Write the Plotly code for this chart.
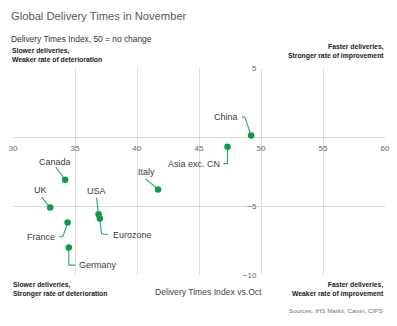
import plotly.graph_objects as go

# Delivery times index by economy (x: level, y: change vs. October)
countries = ["China", "Asia exc. CN", "Italy", "Canada", "UK", "France", "Germany", "USA", "Eurozone"]
index_level = [49.2, 47.3, 41.7, 34.2, 33.0, 34.4, 34.5, 36.9, 37.0]
change_vs_oct = [0.1, -0.7, -3.8, -3.1, -5.1, -6.2, -8.0, -5.6, -5.9]

x_ticks = [30, 35, 40, 45, 50, 55, 60]
y_ticks = [-10, -5, 5]

# Leader-line polylines (pixel offsets from each point, screen y down) and label placement
leaders = {
    "China": ([(0, 0), (-6, -18), (-9, -19)], (-11, -19), "right"),
    "Asia exc. CN": ([(0, 0), (0, 17), (-4, 17)], (-6, 17), "right"),
    "Italy": ([(0, 0), (-12.5, -10.5)], (-12, -17), "center"),
    "Canada": ([(0, 0), (-9.3, -12.7)], (-10, -18), "center"),
    "UK": ([(0, 0), (-8.7, -10.3)], (-10, -17), "center"),
    "France": ([(0, 0), (-4.4, 13.4), (-8.4, 14.4)], (-10.5, 14.5), "right"),
    "Germany": ([(0, 0), (0, 17.7), (6.5, 17.7)], (8, 17.7), "left"),
    "USA": ([(0, 0), (-2, -16.7)], (-2.4, -23.7), "center"),
    "Eurozone": ([(0, 0), (1.7, 15), (8.3, 16.3)], (11, 16.5), "left"),
}

W, H = 397, 326
ML, MR, MT, MB = 13, 12, 68, 51
XR, YR = [30, 60], [-10, 5]
PW, PH = W - ML - MR, H - MT - MB
PX_X = PW / (XR[1] - XR[0])
PX_Y = PH / (YR[1] - YR[0])

DOT = "#0c9a4c"
LEADER = "#25ab63"
GRID = "#dcdcdc"
FONT = "Liberation Sans, Arial, sans-serif"

fig = go.Figure()

annotations = []
for name, xv, yv in zip(countries, index_level, change_vs_oct):
    path, (lx, ly), anchor = leaders[name]
    fig.add_trace(go.Scatter(
        x=[xv + dx / PX_X for dx, dy in path],
        y=[yv - dy / PX_Y for dx, dy in path],
        mode="lines", line=dict(color=LEADER, width=1.1),
        hoverinfo="skip", showlegend=False,
    ))
    annotations.append(dict(
        x=xv, y=yv, xref="x", yref="y", text=name, showarrow=False,
        xshift=lx, yshift=-ly, xanchor=anchor, yanchor="middle",
        font=dict(family=FONT, size=9, color="#3a3a3a"),
    ))

fig.add_trace(go.Scatter(
    x=index_level, y=change_vs_oct, mode="markers",
    marker=dict(color=DOT, size=6.5, line=dict(width=0)),
    text=countries, hoverinfo="text", showlegend=False,
))


def px_note(text, px, py, xanchor="left", yanchor="middle", size=9, color="#444444", bold=False):
    if bold:
        text = "<b>" + text.replace("<br>", "</b><br><b>") + "</b>"
    annotations.append(dict(
        x=(px - ML) / PW, y=(MT + PH - py) / PH, xref="paper", yref="paper",
        text=text, showarrow=False, xanchor=xanchor, yanchor=yanchor, align=xanchor,
        font=dict(family=FONT, size=size, color=color),
    ))


px_note("Global Delivery Times in November", 9, 16, size=11.2, color="#5a5a5a")
px_note("Delivery Times Index, 50 = no change", 9, 38.5, size=8.4, color="#333333")
px_note("Slower deliveries,<br>Weaker rate of deterioration", 10, 55.5, size=6.8, color="#1a1a1a", bold=True)
px_note("Faster deliveries,<br>Stronger rate of improvement", 386, 51.5, xanchor="right", size=6.8, color="#1a1a1a", bold=True)
px_note("Slower deliveries,<br>Stronger rate of deterioration", 11, 289.5, size=6.8, color="#1a1a1a", bold=True)
px_note("Faster deliveries,<br>Weaker rate of improvement", 386, 289.5, xanchor="right", size=6.8, color="#1a1a1a", bold=True)
px_note("Delivery Times Index vs.Oct", 208, 292, xanchor="center", size=8.6, color="#444444")
px_note("Sources: IHS Markit, Caixin, CIPS", 385, 310, xanchor="right", size=6.2, color="#777777")

fig.update_layout(
    width=W, height=H,
    margin=dict(l=ML, r=MR, t=MT, b=MB, autoexpand=False),
    paper_bgcolor="white", plot_bgcolor="white",
    annotations=annotations,
    xaxis=dict(
        range=XR, tickvals=x_ticks, showgrid=True, gridcolor=GRID, gridwidth=1,
        zeroline=False, showline=False, anchor="free", automargin=False,
        position=(0 - YR[0]) / (YR[1] - YR[0]), side="bottom",
        ticks="outside", ticklen=3, tickcolor="rgba(0,0,0,0)",
        tickfont=dict(family=FONT, size=8, color="#666666"),
    ),
    yaxis=dict(
        range=YR, tickvals=y_ticks, showgrid=True, gridcolor=GRID, gridwidth=1,
        zeroline=True, zerolinecolor=GRID, zerolinewidth=1, showline=False,
        anchor="free", automargin=False,
        position=(50 - XR[0]) / (XR[1] - XR[0]), side="left",
        ticks="outside", ticklen=3, tickcolor="rgba(0,0,0,0)",
        tickfont=dict(family=FONT, size=8, color="#666666"),
    ),
)

fig.write_html("out.html")
